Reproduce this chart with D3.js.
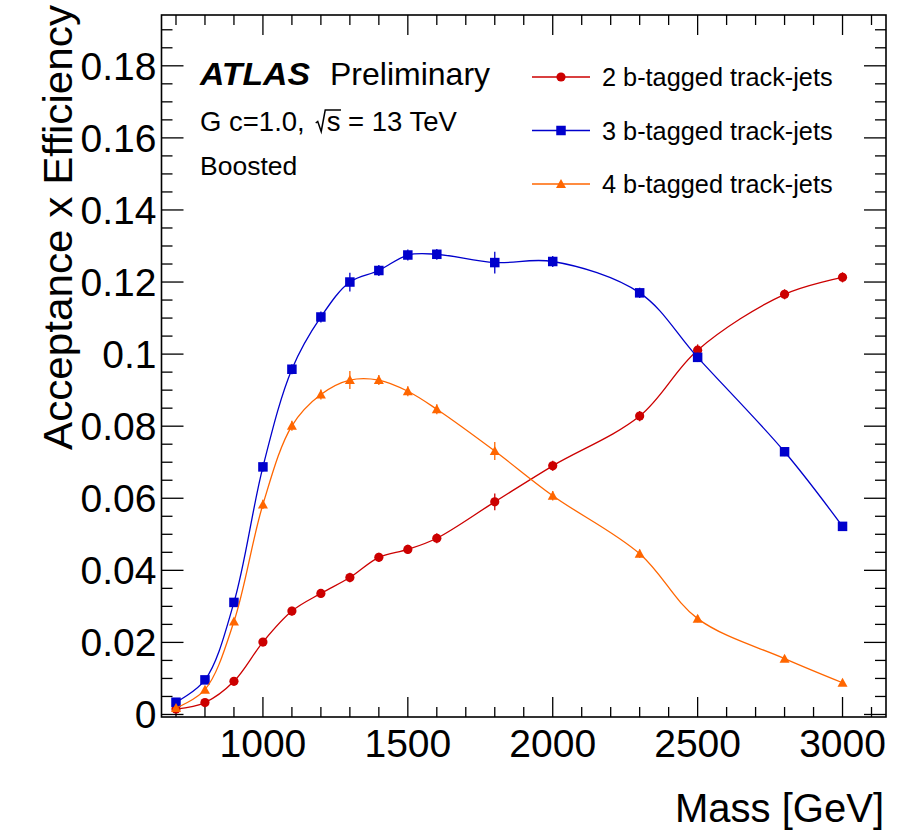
<!DOCTYPE html>
<html>
<head>
<meta charset="utf-8">
<script src="https://cdn.jsdelivr.net/npm/d3@7"></script>
<style>
  html, body { margin: 0; padding: 0; background: #fff; }
  svg { display: block; }
  text { font-family: "Liberation Sans", Arial, Helvetica, sans-serif; fill: #000; }
</style>
</head>
<body>
<svg id="chart" width="897" height="834"></svg>
<script>
// Signal mass points [GeV]
const masses = [700, 800, 900, 1000, 1100, 1200, 1300, 1400, 1500, 1600, 1800, 2000, 2300, 2500, 2800, 3000];

// Acceptance x efficiency per b-tag category
const eff2b = [0.0015, 0.0033, 0.0092, 0.0201, 0.0287, 0.0336, 0.0380, 0.0436, 0.0458, 0.0489, 0.0590, 0.0690, 0.0828, 0.1011, 0.1166, 0.1213];
const eff3b = [0.0034, 0.0096, 0.0311, 0.0687, 0.0958, 0.1103, 0.1200, 0.1232, 0.1275, 0.1277, 0.1254, 0.1257, 0.1170, 0.0991, 0.0729, 0.0522];
const eff4b = [0.0018, 0.0069, 0.0258, 0.0583, 0.0801, 0.0888, 0.0928, 0.0928, 0.0897, 0.0847, 0.0731, 0.0607, 0.0446, 0.0266, 0.0155, 0.0088];

// Statistical uncertainties
const err2b = [0.0004, 0.0006, 0.0008, 0.0010, 0.0012, 0.0012, 0.0013, 0.0013, 0.0013, 0.0014, 0.0023, 0.0014, 0.0014, 0.0016, 0.0014, 0.0014];
const err3b = [0.0005, 0.0008, 0.0011, 0.0013, 0.0014, 0.0015, 0.0026, 0.0015, 0.0015, 0.0015, 0.0030, 0.0015, 0.0014, 0.0013, 0.0012, 0.0010];
const err4b = [0.0004, 0.0007, 0.0010, 0.0013, 0.0014, 0.0014, 0.0025, 0.0014, 0.0014, 0.0014, 0.0025, 0.0013, 0.0012, 0.0010, 0.0008, 0.0006];

const seriesNames = ["2 b-tagged track-jets", "3 b-tagged track-jets", "4 b-tagged track-jets"];
const seriesColors = ["#cc0000", "#0000cc", "#ff6600"];
const seriesMarkers = ["circle", "square", "triangle"];

// Axis ticks
const xMajorTicks = [1000, 1500, 2000, 2500, 3000];
const xMinorTicks = d3.range(700, 3101, 100);
const yMajorTicks = [0, 0.02, 0.04, 0.06, 0.08, 0.1, 0.12, 0.14, 0.16, 0.18];
const yTickLabels = ["0", "0.02", "0.04", "0.06", "0.08", "0.1", "0.12", "0.14", "0.16", "0.18"];
const yMinorTicks = d3.range(0, 0.1901, 0.005);

const svg = d3.select("#chart");
const frame = { left: 161.5, right: 886, top: 15, bottom: 717 };

const x = d3.scaleLinear().domain([650, 3150]).range([frame.left, frame.right]);
const y = d3.scaleLinear().domain([-0.0007, 0.1941]).range([frame.bottom, frame.top]);

// Frame
svg.append("rect")
  .attr("x", frame.left).attr("y", frame.top)
  .attr("width", frame.right - frame.left).attr("height", frame.bottom - frame.top)
  .attr("fill", "none").attr("stroke", "#000").attr("stroke-width", 1.6);

// Ticks on all four sides (inward)
const tickG = svg.append("g").attr("stroke", "#000").attr("stroke-width", 1.3);
const majLenX = 20, minLenX = 10, majLenY = 22, minLenY = 11;
xMinorTicks.forEach(v => {
  const major = xMajorTicks.includes(v);
  const len = major ? majLenX : minLenX;
  tickG.append("line").attr("x1", x(v)).attr("x2", x(v)).attr("y1", frame.bottom).attr("y2", frame.bottom - len);
  tickG.append("line").attr("x1", x(v)).attr("x2", x(v)).attr("y1", frame.top).attr("y2", frame.top + len);
});
yMinorTicks.forEach(v => {
  const major = yMajorTicks.some(t => Math.abs(t - v) < 1e-9);
  const len = major ? majLenY : minLenY;
  tickG.append("line").attr("y1", y(v)).attr("y2", y(v)).attr("x1", frame.left).attr("x2", frame.left + len);
  tickG.append("line").attr("y1", y(v)).attr("y2", y(v)).attr("x1", frame.right).attr("x2", frame.right - len);
});

// Tick labels
svg.append("g").selectAll("text").data(xMajorTicks).join("text")
  .attr("x", d => x(d)).attr("y", 757)
  .attr("text-anchor", "middle").attr("font-size", 39)
  .text(d => d);
svg.append("g").selectAll("text").data(yMajorTicks).join("text")
  .attr("x", 156.5).attr("y", d => y(d) + 14)
  .attr("text-anchor", "end").attr("font-size", 39)
  .text((d, i) => yTickLabels[i]);

// Axis titles
svg.append("text")
  .attr("x", 884).attr("y", 822)
  .attr("text-anchor", "end").attr("font-size", 40)
  .text("Mass [GeV]");
svg.append("text")
  .attr("transform", "translate(72,450) rotate(-90)")
  .attr("font-size", 40)
  .attr("textLength", 445).attr("lengthAdjust", "spacingAndGlyphs")
  .text("Acceptance x Efficiency");

// Series
const allEff = [eff2b, eff3b, eff4b];
const allErr = [err2b, err3b, err4b];

function drawMarker(g, type, cx, cy, color) {
  if (type === "circle") {
    g.append("circle").attr("cx", cx).attr("cy", cy).attr("r", 4.6).attr("fill", color);
  } else if (type === "square") {
    const s = 9.5;
    g.append("rect").attr("x", cx - s / 2).attr("y", cy - s / 2).attr("width", s).attr("height", s).attr("fill", color);
  } else {
    const w = 10, h = 9;
    g.append("path")
      .attr("d", `M${cx - w / 2},${cy + h * 0.45}L${cx + w / 2},${cy + h * 0.45}L${cx},${cy - h * 0.55}Z`)
      .attr("fill", color);
  }
}

const line = d3.line()
  .x(d => x(d[0])).y(d => y(d[1]))
  .curve(d3.curveCatmullRom.alpha(0.5));

allEff.forEach((vals, si) => {
  const color = seriesColors[si];
  const g = svg.append("g");
  const pts = masses.map((m, i) => [m, vals[i]]);
  g.append("path").datum(pts)
    .attr("d", line).attr("fill", "none")
    .attr("stroke", color).attr("stroke-width", 1.3);
  masses.forEach((m, i) => {
    const e = allErr[si][i];
    g.append("line")
      .attr("x1", x(m)).attr("x2", x(m))
      .attr("y1", y(vals[i] - e)).attr("y2", y(vals[i] + e))
      .attr("stroke", color).attr("stroke-width", 1.3);
    drawMarker(g, seriesMarkers[si], x(m), y(vals[i]), color);
  });
});

// Legend
const legendRows = [77, 130.5, 184];
seriesNames.forEach((name, i) => {
  const g = svg.append("g");
  g.append("line").attr("x1", 532).attr("x2", 590)
    .attr("y1", legendRows[i]).attr("y2", legendRows[i])
    .attr("stroke", seriesColors[i]).attr("stroke-width", 1.3);
  drawMarker(g, seriesMarkers[i], 561, legendRows[i], seriesColors[i]);
  g.append("text").attr("x", 602).attr("y", legendRows[i] + 9)
    .attr("font-size", 25.3).text(name);
});

// Labels
svg.append("text").attr("x", 200).attr("y", 85)
  .attr("font-size", 31).attr("font-weight", "bold").attr("font-style", "italic")
  .attr("textLength", 110).attr("lengthAdjust", "spacingAndGlyphs")
  .text("ATLAS");
svg.append("text").attr("x", 330).attr("y", 85)
  .attr("font-size", 32).text("Preliminary");

// Centre-of-mass energy line, with a hand-drawn radical over "s"
const eBase = 131;
const energy = svg.append("text").attr("x", 200).attr("y", eBase).attr("font-size", 27.5);
energy.append("tspan").text("G c=1.0,");
energy.append("tspan").attr("dx", 22).text("s");
energy.append("tspan").text(" = 13 TeV");
{
  const node = energy.node();
  const sIdx = "G c=1.0,".length;
  const sBox = node.getExtentOfChar(sIdx);
  const sx = sBox.x, sw = sBox.width;
  const top = eBase - 21;
  svg.append("path")
    .attr("d", `M${sx - 11},${eBase - 8} L${sx - 9},${eBase - 9.5} L${sx - 5.5},${eBase + 0.5} L${sx - 1.5},${top} L${sx + sw + 0.5},${top}`)
    .attr("fill", "none").attr("stroke", "#000").attr("stroke-width", 1.5)
    .attr("stroke-linejoin", "miter");
}

svg.append("text").attr("x", 200).attr("y", 175)
  .attr("font-size", 26.5).text("Boosted");
</script>
</body>
</html>
